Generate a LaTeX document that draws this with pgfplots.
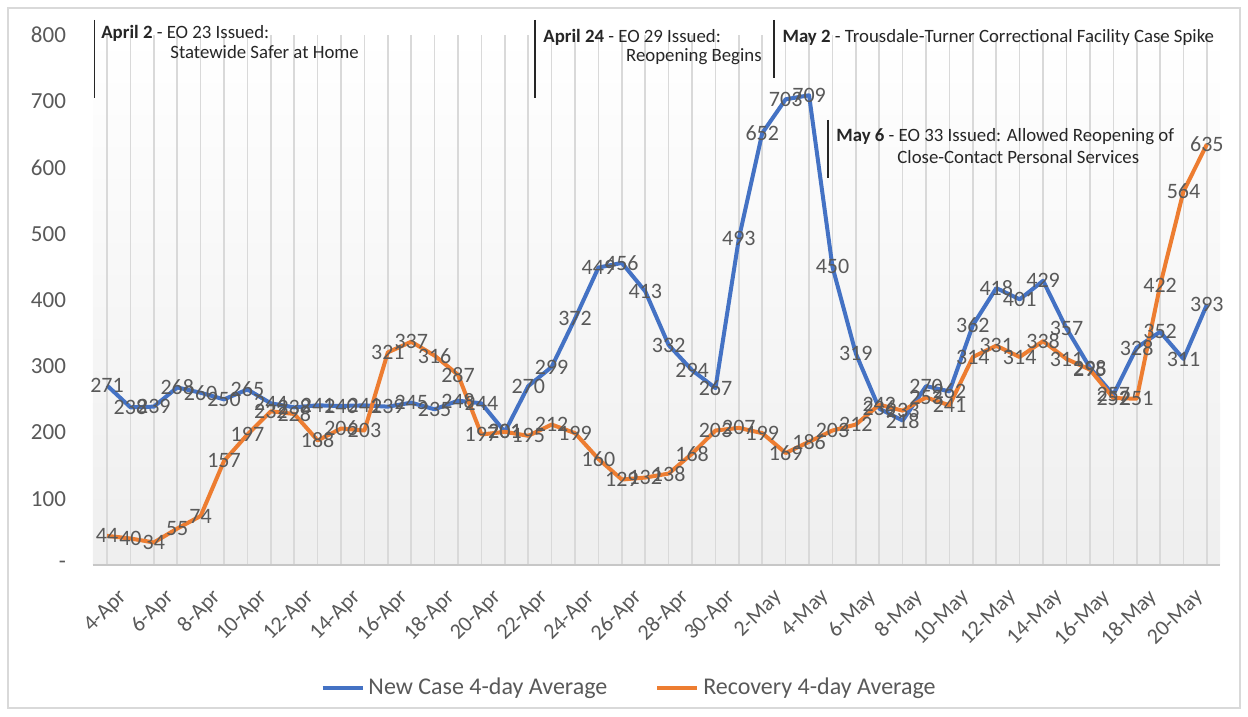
\documentclass[border=0pt]{standalone}
\usepackage{fontspec}
\setmainfont{Carlito}
\usepackage{pgfplots}
\usepackage{pgfplotstable}
\pgfplotsset{compat=1.18}
\definecolor{cblue}{HTML}{4472C4}
\definecolor{corange}{HTML}{ED7D31}
\definecolor{tgray}{HTML}{595959}
\definecolor{agray}{HTML}{262626}
\definecolor{ggray}{HTML}{D9D9D9}

\pgfplotstableread{
x blue orange
0 271 44
1 238 40
2 239 34
3 268 55
4 260 74
5 250 157
6 265 197
7 244 232
8 238 228
9 241 188
10 240 206
11 241 203
12 239 321
13 245 337
14 235 316
15 248 287
16 244 197
17 201 201
18 270 195
19 299 212
20 372 199
21 449 160
22 456 129
23 413 132
24 332 138
25 294 168
26 267 203
27 493 207
28 652 199
29 703 169
30 709 186
31 450 203
32 319 212
33 236 242
34 218 233
35 270 253
36 262 241
37 362 314
38 418 331
39 401 314
40 429 338
41 357 311
42 298 295
43 257 252
44 328 251
45 352 422
46 311 564
47 393 635
}\datatable

\begin{document}
\begin{tikzpicture}
\useasboundingbox (-46.5pt,-76pt) rectangle (577.5pt,282.5pt);
\draw[gray!30, line width=0.8pt] (-42.5pt,-71.5pt) rectangle (573.5pt,278.5pt);
\begin{axis}[
  at={(0,0)}, anchor=south west,
  scale only axis, width=563.5pt, height=265pt,
  xmin=-0.6, xmax=47.56, ymin=0, ymax=800,
  clip=false,
  axis line style={draw=none},
  axis background/.style={top color=white, bottom color=gray!13},
  major tick length=0pt, minor tick length=0pt,
  xtick={0,2,...,46},
  xticklabels={4-Apr,6-Apr,8-Apr,10-Apr,12-Apr,14-Apr,16-Apr,18-Apr,20-Apr,22-Apr,24-Apr,26-Apr,28-Apr,30-Apr,2-May,4-May,6-May,8-May,10-May,12-May,14-May,16-May,18-May,20-May},
  minor xtick={1,3,...,47},
  xmajorgrids, xminorgrids,
  major grid style={ggray, line width=0.8pt},
  minor grid style={ggray, line width=0.8pt},
  ytick={0,100,...,800},
  yticklabels={{-\hspace{6pt}},100,200,300,400,500,600,700,800},
  yticklabel style={font=\fontsize{11.5}{12}\selectfont, text=tgray, xshift=-10pt},
  xticklabel style={font=\fontsize{11}{12}\selectfont, text=tgray, rotate=45, anchor=north east, yshift=-8pt, xshift=-1pt},
  /pgf/number format/assume math mode=true,
  legend columns=2,
  legend style={draw=none, fill=none, at={(rel axis cs:0.4765,-0.232)}, anchor=center,
    font=\fontsize{12}{13}\selectfont, text=tgray,
    /tikz/every even column/.append style={column sep=22pt}},
  legend image code/.code={\draw[#1, line width=2pt] (0pt,0pt) -- (20pt,0pt);},
  nodes near coords,
  nodes near coords align=center,
  every node near coord/.append style={font=\fontsize{11}{11}\selectfont, text=tgray, inner sep=0pt, /pgf/number format/fixed, /pgf/number format/precision=0, /pgf/number format/assume math mode=true},
]
\draw[ggray!80!gray, line width=0.8pt] (axis cs:-0.6,0) -- (axis cs:47.56,0);
\addplot[cblue, line width=2pt, line join=round] table[x=x, y=blue] \datatable;
\addlegendentry{New Case 4-day Average}
\addplot[corange, line width=2pt, line join=round] table[x=x, y=orange] \datatable;
\addlegendentry{Recovery 4-day Average}

% annotations
\draw[agray, line width=0.6pt] (axis cs:-0.55,823) -- (axis cs:-0.55,705);
\node[anchor=west, inner sep=0pt, text=agray, font=\fontsize{9.4}{10}\selectfont] at (axis cs:-0.26,803) {\textbf{April 2} - EO 23 Issued:};
\node[anchor=west, inner sep=0pt, text=agray, font=\fontsize{9.4}{10}\selectfont] at (axis cs:2.69,774) {Statewide Safer at Home};

\draw[agray, line width=0.6pt] (axis cs:18.29,823) -- (axis cs:18.29,705);
\node[anchor=west, inner sep=0pt, text=agray, font=\fontsize{9.4}{10}\selectfont] at (axis cs:18.63,797) {\textbf{April 24} - EO 29 Issued:};
\node[anchor=east, inner sep=0pt, text=agray, font=\fontsize{9.4}{10}\selectfont] at (axis cs:27.99,767) {Reopening Begins};

\draw[agray, line width=0.6pt] (axis cs:28.5,823) -- (axis cs:28.5,735);
\node[anchor=west, inner sep=0pt, text=agray, font=\fontsize{9.4}{10}\selectfont] at (axis cs:28.85,797) {\textbf{May 2} - Trousdale-Turner Correctional Facility Case Spike};

\draw[agray, line width=0.6pt] (axis cs:30.81,672) -- (axis cs:30.81,584);
\node[anchor=west, inner sep=0pt, text=agray, font=\fontsize{9.4}{10}\selectfont] at (axis cs:31.15,646) {\textbf{May 6} - EO 33 Issued: Allowed Reopening of};
\node[anchor=west, inner sep=0pt, text=agray, font=\fontsize{9.4}{10}\selectfont] at (axis cs:33.76,616) {Close-Contact Personal Services};
\end{axis}
\end{tikzpicture}
\end{document}
